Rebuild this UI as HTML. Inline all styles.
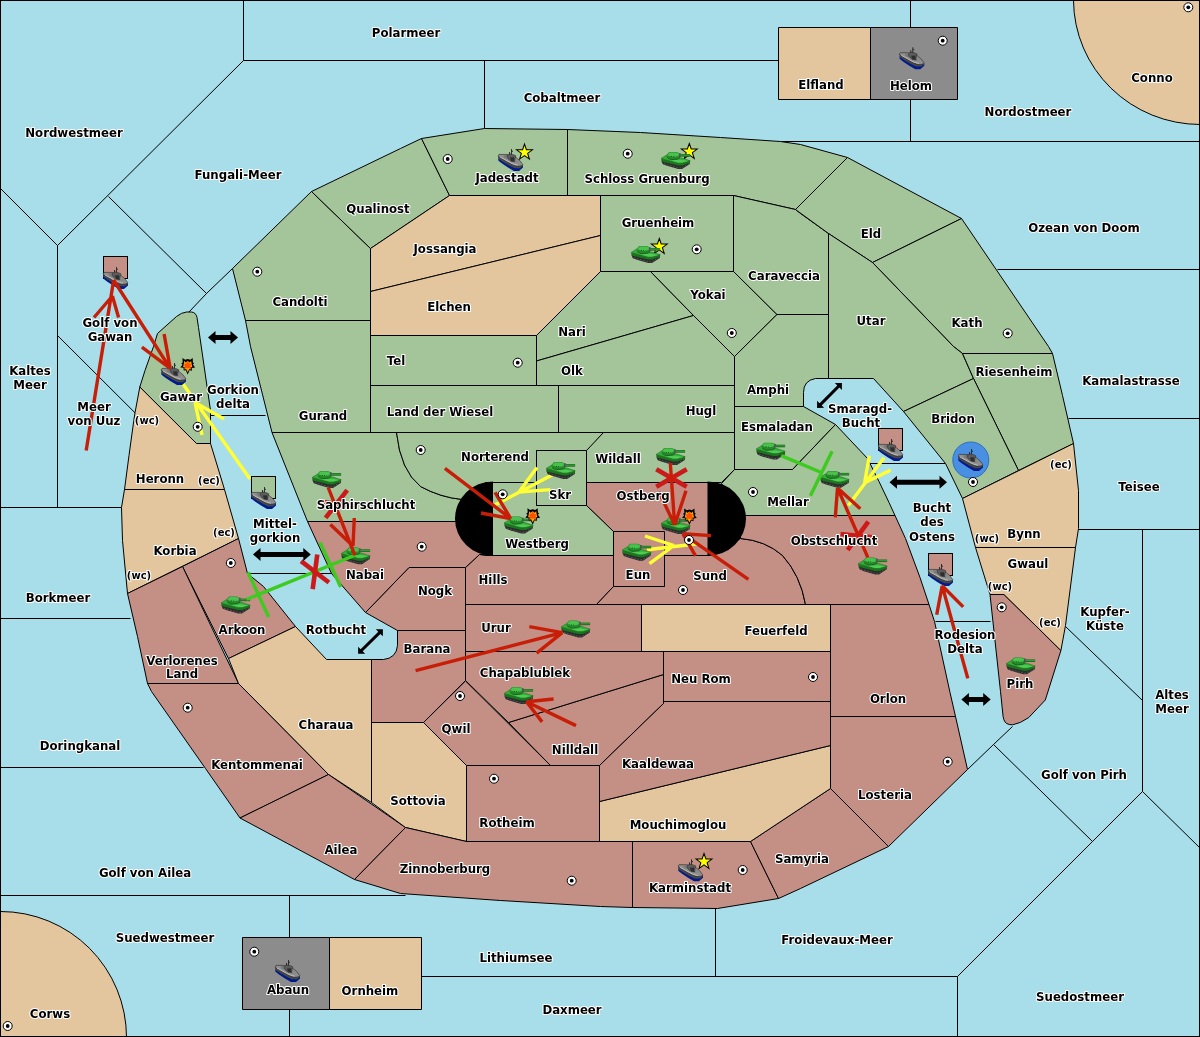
<!DOCTYPE html>
<html lang="de"><head><meta charset="utf-8"><title>Karte</title>
<style>
html,body{margin:0;padding:0;background:#A8DDEA;}
svg{display:block;will-change:transform}
.t{font-family:"DejaVu Sans","Liberation Sans",sans-serif;font-weight:bold;font-size:11.75px;fill:#000;stroke:#fff;stroke-width:2px;stroke-linejoin:round;paint-order:stroke fill;text-anchor:middle}
.s{font-size:10px}
</style></head><body>
<svg width="1200" height="1037" viewBox="0 0 1200 1037">
<rect x="0" y="0" width="1200" height="1037" fill="#A8DDEA"/>
<g stroke="#000" stroke-width="1" stroke-linejoin="round" transform="translate(0.5,0.5)">
<polyline points="243,0 243,60" fill="none"/>
<polyline points="243,60 910,60" fill="none"/>
<polyline points="243,60 57,245 57,507" fill="none"/>
<polyline points="0,188 57,245" fill="none"/>
<polyline points="108,196 206,293 232,268" fill="none"/>
<polyline points="206,293 188,312" fill="none"/>
<polyline points="57,335 134.5,412.3" fill="none"/>
<polyline points="0,507 121,507" fill="none"/>
<polyline points="0,618 130,618" fill="none"/>
<polyline points="0,767 203,767" fill="none"/>
<polyline points="0,895 405,895" fill="none"/>
<polyline points="289,895 289,1037" fill="none"/>
<polyline points="421,976 957,976 957,1037" fill="none"/>
<polyline points="715,908 715,976" fill="none"/>
<polyline points="957,976 1092,841 1142,791 1142,529" fill="none"/>
<polyline points="1142,791 1200,848" fill="none"/>
<polyline points="1092,841 993,744 1012,726" fill="none"/>
<polyline points="993,744 967,769" fill="none"/>
<polyline points="1065,626 1142,700" fill="none"/>
<polyline points="1078,529 1200,529" fill="none"/>
<polyline points="1068,418 1200,418" fill="none"/>
<polyline points="997,269 1200,269" fill="none"/>
<polyline points="780,141 1200,141" fill="none"/>
<polyline points="910,0 910,141" fill="none"/>
<polyline points="484,60 484,128" fill="none"/>
<polyline points="205,415 265,415" fill="none"/>
<polyline points="248,573 333,573" fill="none"/>
<polyline points="867,463 945,463" fill="none"/>
<polyline points="935,621 990,621" fill="none"/>
<rect x="452" y="482" width="42" height="40" fill="#A4C49A" stroke="none"/>
<rect x="452" y="521" width="42" height="34" fill="#C49086" stroke="none"/>
<rect x="705" y="470" width="42" height="45" fill="#A4C49A" stroke="none"/>
<rect x="705" y="515" width="42" height="40" fill="#C49086" stroke="none"/>
<path d="M1073,0 A127,125 0 0 0 1200,124 L1200,0 Z" fill="#E3C69E" />
<path d="M0,911 A126,126 0 0 1 126,1037 L0,1037 Z" fill="#E3C69E" />
<polygon points="778,27 870,27 870,99 778,99" fill="#E3C69E" />
<polygon points="870,27 957,27 957,99 870,99" fill="#8C8C8C" />
<polygon points="242,937 329,937 329,1009 242,1009" fill="#8C8C8C" />
<polygon points="329,937 421,937 421,1009 329,1009" fill="#E3C69E" />
<path d="M157,333 L176,316 Q181,312 186,311.5 L191,311.5 Q195.5,312 196.5,317 L198,327 L210,410 L210,443 L196,443 L139.3,386.5 L144.5,370 L153,346 Z" fill="#A4C49A" />
<polygon points="139.3,386.5 196,443 210,443 224,489 124,489 128.5,455 133.3,420 134.5,412.3" fill="#E3C69E" />
<polygon points="124,489 224,489 238,538 127,593 122,540 121,507" fill="#E3C69E" />
<polygon points="238,538 247,573 263,586 295,626 228,658 182,566" fill="#C49086" />
<polygon points="127,593 182,566 238,683 147,683 137,636" fill="#C49086" />
<polygon points="228,658 295,626 326,659 371,659 371,802 328,774 238,683" fill="#E3C69E" />
<polygon points="147,683 238,683 328,774 239.5,817.5 205,768 151,691" fill="#C49086" />
<polygon points="239.5,817.5 328,774 405,827 354,879" fill="#C49086" />
<polygon points="371,722 423,722 466,765 466,841 405,827 371,802" fill="#E3C69E" />
<polygon points="405,827 466,841 632,841 632,907 600,906 500,900 400,893 354,879" fill="#C49086" />
<polygon points="632,841 750,841 778,898 717,908 632,907" fill="#C49086" />
<polygon points="750,841 830,788 888,846 800,888 778,898" fill="#C49086" />
<polygon points="599,801 830,745 830,788 750,841 599,841" fill="#E3C69E" />
<polygon points="466,765 599,765 599,841 466,841" fill="#C49086" />
<polygon points="830,716 955,716 967,769 888,846 830,788" fill="#C49086" />
<polygon points="830,604 928.5,604 934,621 949.5,692 955,716 830,716" fill="#C49086" />
<polygon points="465,680.5 550,765 466,765 423,722" fill="#C49086" />
<polygon points="508,722 663,674 663,703 599,765 550,765" fill="#C49086" />
<polygon points="663,701 830,701 830,745 599,801 599,765 663,703" fill="#C49086" />
<polygon points="663,651 830,651 830,701 663,701" fill="#C49086" />
<polygon points="465,651 663,651 663,674 508,722 465,680" fill="#C49086" />
<polygon points="465,604 641,604 641,651 465,651" fill="#C49086" />
<polygon points="641,604 830,604 830,651 641,651" fill="#E3C69E" />
<path d="M397,630 L465,630 L465,680 L423,722 L371,722 L371,659 L383,659 Q396,657.5 397,645 Z" fill="#C49086" />
<polygon points="408.5,567 465,567 465,630 397,630 365,612" fill="#C49086" />
<polygon points="479,554 485,555 613,555 613,586 596,604 465,604 465,567" fill="#C49086" />
<polygon points="307,521 485,521 485,554 479,554 465,567 408.5,567 365,612 331,573" fill="#C49086" />
<path d="M664,555 L712,555 L740,538 Q765,540 782,555 Q800,575 805,604 L596,604 L613,586 L664,586 Z" fill="#C49086" />
<path d="M740,515 L894.5,515 L905,538 L919.5,577 L928.5,604 L805,604 Q800,575 782,555 Q765,540 740,538 Z" fill="#C49086" />
<polygon points="613,531 664,531 664,586 613,586" fill="#C49086" />
<polygon points="586,482 712,482 712,555 664,555 664,531 613,531 586,505" fill="#C49086" />
<polygon points="485,482 536,482 536,505 586,505 613,531 613,555 485,555" fill="#A4C49A" />
<path d="M989.5,594 L1003.5,594 L1060.4,650 L1044.8,699.5 L1028.3,717 Q1020,723 1012,724.3 Q1005,724.5 1003.3,719 L1002.6,716 L1000,691 Z" fill="#C49086" />
<polygon points="232,268 311,191 370,248 370,320 245,320" fill="#A4C49A" />
<polygon points="311,191 400,148 421,138 449,195 370,248" fill="#A4C49A" />
<polygon points="421,138 484,128 567,129 567,195 449,195" fill="#A4C49A" />
<polygon points="567,129 640,132 720,137 780,141 800,144 847,157 795,209 733,195 567,195" fill="#A4C49A" />
<polygon points="370,248 449,195 600,195 600,235 370,291" fill="#E3C69E" />
<polygon points="370,291 600,235 600,271 536,335 370,335" fill="#E3C69E" />
<polygon points="600,195 733,195 733,271 600,271" fill="#A4C49A" />
<polygon points="536,335 600,271 650,271 693,315 536,360.5" fill="#A4C49A" />
<polygon points="650,271 733,271 776.5,314 734,356 693,315" fill="#A4C49A" />
<polygon points="733,195 795,209 800,213 828,233 828,314 776.5,314 733,271" fill="#A4C49A" />
<polygon points="795,209 847,157 961,218 872,262 828,233" fill="#A4C49A" />
<polygon points="872,262 961,218 1048,346 1052,353 962,353 953,346" fill="#A4C49A" />
<path d="M828,233 L872,262 L953,346 L962,353 L973,378 L903,411 L873,378 L828,378 Z" fill="#A4C49A" />
<polygon points="962,353 1052,353 1062,395 1073,443 1018,470 973,378" fill="#A4C49A" />
<polygon points="973,378 1018,470 962,498 945,463 903,411" fill="#A4C49A" />
<polygon points="962,498 1073,443 1078,490 1078,528 1075,547 975,547" fill="#E3C69E" />
<polygon points="975,547 1075,547 1065,625 1060.4,650 1003.5,594 989.5,594" fill="#E3C69E" />
<polygon points="370,335 536,335 536,385 370,385" fill="#A4C49A" />
<polygon points="536,360.5 693,315 734,356 734,385 536,385" fill="#A4C49A" />
<polygon points="370,385 558,385 558,432 370,432" fill="#A4C49A" />
<polygon points="558,385 734,385 734,432 558,432" fill="#A4C49A" />
<path d="M734,356 L776.5,314 L828,314 L828,378 L815,378 Q803,380 803,392 L803,406 L734,406 Z" fill="#A4C49A" />
<polygon points="734,406 803,406 835,424 792,469 734,469" fill="#A4C49A" />
<polygon points="734,469 792,469 835,424 867,458 878.5,481 888.5,502 894.5,515 740,515 721,483" fill="#A4C49A" />
<polygon points="245,320 370,320 370,432 271.5,432 250,346" fill="#A4C49A" />
<path d="M271.5,432 L396,432 Q400,470 420,486 Q440,497 462,499 L485,499 L485,521 L307,521 Z" fill="#A4C49A" />
<path d="M396,432 L603,432 L587,450 L536,450 L536,482 L485,482 L485,499 L462,499 Q440,497 420,486 Q400,470 396,432 Z" fill="#A4C49A" />
<polygon points="536,450 586,450 586,505 536,505" fill="#A4C49A" />
<polygon points="603,432 734,432 734,469 721,482 586,482 586,450" fill="#A4C49A" />
<path d="M492.5,481 A38,37.2 0 0 0 492.5,555.4 Z" fill="#000" stroke="none"/>
<path d="M707,481 A38.5,37.2 0 0 1 707,555.4 Z" fill="#000" stroke="none"/>
</g>
<defs>
<g id="tank">
<path d="M0.3,8.8 L1.8,12.2 L6,13.8 L17.2,17 L21,17 L28.8,11.9 L29,9 Z" fill="#2c2c2c"/>
<path d="M3,11.7 L17.5,15.9 L20.8,15.9 L28,11.3" stroke="#606060" stroke-width="0.9" stroke-dasharray="1.5 1.7" fill="none"/>
<path d="M0.2,6.6 L0.5,8.8 L1.5,9.7 L17.2,13.5 L21.4,13.5 L29,10.5 L29.2,8.6 Z" fill="#1d741f"/>
<path d="M0.1,6.4 L5.2,3.3 L21,6 L29.2,8.7 L21,11.2 L17,11.2 Z" fill="#35ab38" stroke="#1d6e20" stroke-width="0.5"/>
<path d="M9,8.2 L20,7.8 L27.4,8.9 L21,10.5 L17,10.5 Z" fill="#4fca53"/>
<path d="M5,3.4 L8.1,0.1 L15.7,0.1 L18.7,1.2 L19,5.4 L16.5,7 L10.1,7.6 L6.4,5.6 Z" fill="#278a2a"/>
<path d="M6.2,3.2 L8.5,0.6 L15.5,0.6 L18,1.6 L17.6,4 L12,5 Z" fill="#49c24d"/>
<path d="M6.2,5.6 L10.1,7.7 L16.6,7.1 L19.2,5.5" stroke="#14541a" stroke-width="0.8" fill="none"/>
<rect x="18.2" y="1.3" width="1.6" height="3.8" fill="#514a5a"/>
<rect x="19.7" y="2.1" width="9.4" height="2.6" fill="#1c6a1e"/>
<rect x="19.7" y="2.7" width="9.4" height="1.1" fill="#2fa032"/>
<rect x="10" y="4" width="0.9" height="0.9" fill="#145018"/><rect x="12" y="4" width="0.9" height="0.9" fill="#145018"/>
</g>
<g id="ship">
<path d="M0,9.2 L0.5,11.8 L4,14.5 L10,18.5 L16,21.9 L21,21.9 L25,18.4 L25,16.4 L17,18.8 Z" fill="#001c8c"/>
<path d="M0.2,6.5 L0.2,9.6 L6,13.5 L12,17 L17,19.3 L22,19.3 L24.9,16.9 L24.8,15.5 L17,16.6 L8,12 Z" fill="#474747"/>
<path d="M0.3,6.3 L1,5.4 L8,5.4 L12,6 L18,8.5 L21.8,11.6 L24.7,15.5 L24.5,16.5 L21.5,17.2 L17.5,16.8 L12,14.3 L6,10.8 L0.5,7.6 Z" fill="#8f8f8f" stroke="#262626" stroke-width="0.6"/>
<path d="M2,8 L8,11.3 L14,14.6 L20,16.3" stroke="#bcbcbc" stroke-width="1" fill="none"/>
<path d="M5.5,6.3 L8.5,6.1 L10,8 L9.4,10 L6.5,9 Z" fill="#787878"/>
<path d="M9,6.4 L10.5,5.6 L12,4.7 L16,5.9 L17.9,6.8 L17,9.5 L17.2,12.8 L13,12.2 L10,9.8 Z" fill="#5c5c5c" stroke="#262626" stroke-width="0.5"/>
<path d="M11.9,8.4 L16,8.2 L16.4,12.6 L13,12 Z" fill="#2e2e2e"/>
<path d="M16.8,11 L19.5,10.6 L21.4,12.2 L21,14 L18,13.8 Z" fill="#8a8a8a"/>
<path d="M13.5,0 L13.5,5.5 M13.5,2.4 L15,2.2 M11.4,3 L11.6,5.4" stroke="#222" stroke-width="0.9" fill="none"/>
</g>
<g id="star">
<path transform="translate(0,0.6) scale(1.04)" d="M0,-7.8 L1.85,-2.5 L7.6,-2.4 L3,1 L4.7,6.5 L0,3.2 L-4.7,6.5 L-3,1 L-7.6,-2.4 L-1.85,-2.5 Z" fill="#FFFF00" stroke="#000" stroke-width="1" stroke-linejoin="miter"/>
</g>
<g id="boom">
<path d="M-5.3,-7.5 L-2.5,-5.8 L0,-6.6 L2.5,-5.8 L5,-7.5 L5.2,-3.2 L6.4,-2.3 L5.2,-1 L7.4,1.9 L4.2,2.4 L4,5.3 L2,4.4 L0,9 L-2,4.6 L-4,4.8 L-4.2,2.2 L-7.4,2 L-5.2,-0.8 L-6.4,-2.3 L-5,-3.2 Z" fill="#000"/>
<path d="M-3.4,-4.8 L-2.2,-3 L0,-4.6 L2.2,-3 L3.4,-4.8 L4,-1.4 L4.6,1.4 L2.6,1.8 L3.4,4 L1.6,3.4 L0,6.6 L-1.6,3.4 L-3.4,4 L-2.6,1.8 L-4.6,1.4 L-4,-1.4 Z" fill="#FFA500"/>
<path d="M0,-4.4 L1.6,-2 L3.6,-1.4 L2.8,0.6 L3.2,3.4 L1,2.4 L0,3 L-1,2.4 L-3.2,3.4 L-2.8,0.6 L-3.6,-1.4 L-1.6,-2 Z" fill="#FF5000"/>
</g>
<g id="sc">
<circle r="4.5" fill="#fff" stroke="#000" stroke-width="1"/><circle r="1.9" fill="#000"/>
</g>
</defs>
<path d="M250,479 L183,384 M224,419 L195,402.5 M202,435 L195,402.5" stroke="#FFFF33" stroke-width="3.4" fill="none" stroke-linecap="butt"/>
<path d="M552,475 L493,506 M537,467.6 L519,492 M550.4,489.6 L519,492" stroke="#FFFF33" stroke-width="3.4" fill="none" stroke-linecap="butt"/>
<path d="M647,549.8 L698,543.7 M645,536 L674,545.5 M649.5,563.7 L674,545.5" stroke="#FFFF33" stroke-width="3.4" fill="none" stroke-linecap="butt"/>
<path d="M884,457.8 L848.3,505.4 M869.4,455.6 L864.6,482.7 M890.6,470.1 L864.6,482.7" stroke="#FFFF33" stroke-width="3.4" fill="none" stroke-linecap="butt"/>
<rect x="103.5" y="256.5" width="24" height="22" fill="#C49086" stroke="#000" stroke-width="1" shape-rendering="crispEdges"/>
<rect x="251.5" y="476.5" width="24" height="22" fill="#A4C49A" stroke="#000" stroke-width="1" shape-rendering="crispEdges"/>
<rect x="878.5" y="428.5" width="24" height="22" fill="#C49086" stroke="#000" stroke-width="1" shape-rendering="crispEdges"/>
<rect x="928.5" y="553.5" width="24" height="22" fill="#C49086" stroke="#000" stroke-width="1" shape-rendering="crispEdges"/>
<circle cx="970.8" cy="460" r="18" fill="#4A90E2" stroke="#2F6FC0" stroke-width="1"/>
<use href="#star" x="524.5" y="151.7"/>
<use href="#star" x="689.3" y="151"/>
<use href="#star" x="659.3" y="246"/>
<use href="#star" x="704" y="861"/>
<use href="#tank" x="661" y="152"/>
<use href="#tank" x="631" y="246"/>
<use href="#tank" x="312" y="471"/>
<use href="#tank" x="341" y="547.2"/>
<use href="#tank" x="221" y="596.5"/>
<use href="#tank" x="546" y="462"/>
<use href="#tank" x="504" y="516.5"/>
<use href="#tank" x="656" y="448"/>
<use href="#tank" x="661" y="517"/>
<use href="#tank" x="622" y="543.7"/>
<use href="#tank" x="756" y="442.6"/>
<use href="#tank" x="820" y="470.8"/>
<use href="#tank" x="858" y="557.4"/>
<use href="#tank" x="561" y="620.5"/>
<use href="#tank" x="504" y="687"/>
<use href="#tank" x="1006" y="657.3"/>
<use href="#ship" x="899.3" y="47.3"/>
<use href="#ship" x="498" y="149"/>
<use href="#ship" x="103" y="267"/>
<use href="#ship" x="161" y="363"/>
<use href="#ship" x="251" y="487"/>
<use href="#ship" x="878" y="439"/>
<use href="#ship" x="958" y="449"/>
<use href="#ship" x="928" y="564"/>
<use href="#ship" x="678" y="859.3"/>
<use href="#ship" x="275" y="960"/>
<path d="M246.7,599.3 L355.5,555" stroke="#3CCB1E" stroke-width="3.4" fill="none"/>
<path d="M248,572.3 L268.7,617" stroke="#3CCB1E" stroke-width="3.4" fill="none"/>
<path d="M320,542.5 L340.7,587" stroke="#3CCB1E" stroke-width="3.4" fill="none"/>
<path d="M781.2,455.6 L822,472.8" stroke="#3CCB1E" stroke-width="3.4" fill="none"/>
<path d="M832.1,451.3 L810.4,495.7" stroke="#3CCB1E" stroke-width="3.4" fill="none"/>
<path d="M301.1,561.1 L328.9,582.5" stroke="#CC1A1A" stroke-width="4.6" fill="none"/>
<path d="M312.7,589.1 L317.3,554.5" stroke="#CC1A1A" stroke-width="4.6" fill="none"/>
<path d="M347.2,490.2 L325.6,517.8" stroke="#CC1A1A" stroke-width="4.6" fill="none"/>
<path d="M319.1,501.6 L353.7,506.4" stroke="#CC1A1A" stroke-width="4.6" fill="none"/>
<path d="M686.7,469.2 L656.3,486.8" stroke="#CC1A1A" stroke-width="4.6" fill="none"/>
<path d="M656.3,469.2 L686.7,486.8" stroke="#CC1A1A" stroke-width="4.6" fill="none"/>
<path d="M847.7,550.0 L868.3,521.6" stroke="#CC1A1A" stroke-width="4.6" fill="none"/>
<path d="M875.4,537.6 L840.6,534.0" stroke="#CC1A1A" stroke-width="4.6" fill="none"/>
<path d="M86.2,450.4 L113.5,281 M94,317.5 L112.4,296 M118.6,317.5 L112.4,296" stroke="#C81E08" stroke-width="3.4" fill="none" stroke-linecap="butt"/>
<path d="M113.5,280 L170.2,368.4 M141.9,347.2 L170.2,368.4 M164.1,334 L170.2,368.4" stroke="#C81E08" stroke-width="3.4" fill="none" stroke-linecap="butt"/>
<path d="M328.2,487.5 L354.9,555.3 M330.4,524.5 L353,546 M354.3,518 L353,546" stroke="#C81E08" stroke-width="3.4" fill="none" stroke-linecap="butt"/>
<path d="M444.9,468.3 L510.7,518.6 M481,513 L510.7,518.6 M495,492.4 L510.7,518.6" stroke="#C81E08" stroke-width="3.4" fill="none" stroke-linecap="butt"/>
<path d="M670.3,463 L674.7,525 M659,492 L674.7,525 M686,490.8 L674.7,525" stroke="#C81E08" stroke-width="3.4" fill="none" stroke-linecap="butt"/>
<path d="M748.4,579.3 L683,533.8 M711,535.6 L683,533.8 M695.5,555.9 L683,533.8" stroke="#C81E08" stroke-width="3.4" fill="none" stroke-linecap="butt"/>
<path d="M867.8,557.4 L837.5,488 M835.3,517.3 L837.5,488 M860.3,508.7 L837.5,488" stroke="#C81E08" stroke-width="3.4" fill="none" stroke-linecap="butt"/>
<path d="M967.8,678.4 L942.2,585.8 M936.7,614.8 L942.2,585.8 M963.2,606.9 L942.2,585.8" stroke="#C81E08" stroke-width="3.4" fill="none" stroke-linecap="butt"/>
<path d="M415.6,670.6 L562.3,632.6 M529.3,626.6 L562.3,632.6 M536.6,653.2 L562.3,632.6" stroke="#C81E08" stroke-width="3.4" fill="none" stroke-linecap="butt"/>
<path d="M576,725.6 L526.5,701.8 M553.6,699 L526.5,701.8 M542.1,721.9 L526.5,701.8" stroke="#C81E08" stroke-width="3.4" fill="none" stroke-linecap="butt"/>
<use href="#sc" x="942.7" y="40.7"/>
<use href="#sc" x="1188.3" y="7.3"/>
<use href="#sc" x="447.7" y="159"/>
<use href="#sc" x="627.7" y="153.7"/>
<use href="#sc" x="696.7" y="249.3"/>
<use href="#sc" x="731.8" y="333"/>
<use href="#sc" x="257.3" y="271.7"/>
<use href="#sc" x="1007.7" y="333.3"/>
<use href="#sc" x="517.7" y="362.7"/>
<use href="#sc" x="197.7" y="426.8"/>
<use href="#sc" x="420.7" y="450"/>
<use href="#sc" x="502.7" y="494.3"/>
<use href="#sc" x="753" y="492"/>
<use href="#sc" x="973" y="482"/>
<use href="#sc" x="689" y="540"/>
<use href="#sc" x="683" y="590"/>
<use href="#sc" x="421.7" y="546.7"/>
<use href="#sc" x="230.8" y="563"/>
<use href="#sc" x="1001.7" y="607.3"/>
<use href="#sc" x="813" y="677"/>
<use href="#sc" x="460" y="696"/>
<use href="#sc" x="187.7" y="707.7"/>
<use href="#sc" x="947.7" y="761.7"/>
<use href="#sc" x="494" y="778.7"/>
<use href="#sc" x="571.7" y="880.7"/>
<use href="#sc" x="742.7" y="870"/>
<use href="#sc" x="254.3" y="951.7"/>
<use href="#sc" x="7.7" y="1026"/>
<use href="#boom" x="187.7" y="365.6"/>
<use href="#boom" x="532.7" y="515.8"/>
<use href="#boom" x="689.4" y="516"/>
<path d="M0,0 L7.5,-6.5 L7.5,-2.5 L22.5,-2.5 L22.5,-6.5 L30.0,0 L22.5,6.5 L22.5,2.5 L7.5,2.5 L7.5,6.5 Z" fill="#000" transform="translate(208,337.5) rotate(0.00)"/>
<path d="M0,0 L7.5,-6.5 L7.5,-2.5 L50.30000000000001,-2.5 L50.30000000000001,-6.5 L57.80000000000001,0 L50.30000000000001,6.5 L50.30000000000001,2.5 L7.5,2.5 L7.5,6.5 Z" fill="#000" transform="translate(253,554.4) rotate(0.00)"/>
<path d="M0,0 L5,-5 L5,-1.5 L29.861009738675065,-1.5 L29.861009738675065,-5 L34.861009738675065,0 L29.861009738675065,5 L29.861009738675065,1.5 L5,1.5 L5,5 Z" fill="#000" transform="translate(358.1,653.8) rotate(-44.65)"/>
<path d="M0,0 L5,-5 L5,-1.5 L30.214201680571968,-1.5 L30.214201680571968,-5 L35.21420168057197,0 L30.214201680571968,5 L30.214201680571968,1.5 L5,1.5 L5,5 Z" fill="#000" transform="translate(817.1,407.9) rotate(-45.23)"/>
<path d="M0,0 L7.5,-6.5 L7.5,-2.5 L50.0,-2.5 L50.0,-6.5 L57.5,0 L50.0,6.5 L50.0,2.5 L7.5,2.5 L7.5,6.5 Z" fill="#000" transform="translate(889.5,482.2) rotate(0.00)"/>
<path d="M0,0 L7.5,-6.5 L7.5,-2.5 L21.800000000000068,-2.5 L21.800000000000068,-6.5 L29.300000000000068,0 L21.800000000000068,6.5 L21.800000000000068,2.5 L7.5,2.5 L7.5,6.5 Z" fill="#000" transform="translate(961.4,699.5) rotate(0.00)"/>
<text class="t" x="406" y="36.5">Polarmeer</text>
<text class="t" x="562" y="101.5">Cobaltmeer</text>
<text class="t" x="821" y="88.5">Elfland</text>
<text class="t" x="911" y="89.5">Helom</text>
<text class="t" x="1152" y="81.5">Conno</text>
<text class="t" x="1028" y="115.5">Nordostmeer</text>
<text class="t" x="74" y="136.5">Nordwestmeer</text>
<text class="t" x="238" y="178.5">Fungali-Meer</text>
<text class="t" x="507" y="181.5">Jadestadt</text>
<text class="t" x="647" y="182.5">Schloss Gruenburg</text>
<text class="t" x="378" y="212.5">Qualinost</text>
<text class="t" x="658" y="226.5">Gruenheim</text>
<text class="t" x="871" y="237.5">Eld</text>
<text class="t" x="1084" y="231.5">Ozean von Doom</text>
<text class="t" x="445" y="252.5">Jossangia</text>
<text class="t" x="784" y="279.5">Caraveccia</text>
<text class="t" x="708" y="298.5">Yokai</text>
<text class="t" x="300" y="305.5">Candolti</text>
<text class="t" x="449" y="310.5">Elchen</text>
<text class="t" x="871" y="324.5">Utar</text>
<text class="t" x="967" y="326.5">Kath</text>
<text class="t" x="572" y="335.5">Nari</text>
<text class="t" x="110" y="326.5">Golf von</text>
<text class="t" x="110" y="340.5">Gawan</text>
<text class="t" x="396" y="364.5">Tel</text>
<text class="t" x="572" y="374.5">Olk</text>
<text class="t" x="1014" y="375.5">Riesenheim</text>
<text class="t" x="30" y="374.5">Kaltes</text>
<text class="t" x="30" y="388.5">Meer</text>
<text class="t" x="1131" y="384.5">Kamalastrasse</text>
<text class="t" x="768" y="393.5">Amphi</text>
<text class="t" x="181" y="400.5">Gawar</text>
<text class="t" x="233" y="393.5">Gorkion</text>
<text class="t" x="233" y="407.5">delta</text>
<text class="t" x="94" y="410.5">Meer</text>
<text class="t" x="94" y="424.5">von Uuz</text>
<text class="t" x="440" y="415.5">Land der Wiesel</text>
<text class="t" x="701" y="414.5">Hugl</text>
<text class="t" x="323" y="419.5">Gurand</text>
<text class="t" x="860" y="412.5">Smaragd-</text>
<text class="t" x="861" y="426.5">Bucht</text>
<text class="t" x="953" y="422.5">Bridon</text>
<text class="t" x="777" y="430.5">Esmaladan</text>
<text class="t" x="495" y="460.5">Norterend</text>
<text class="t" x="618" y="462.5">Wildall</text>
<text class="t" x="160" y="482.5">Heronn</text>
<text class="t" x="1139" y="490.5">Teisee</text>
<text class="t" x="560" y="498.5">Skr</text>
<text class="t" x="643" y="499.5">Ostberg</text>
<text class="t" x="788" y="505.5">Mellar</text>
<text class="t" x="366" y="508.5">Saphirschlucht</text>
<text class="t" x="932" y="511.5">Bucht</text>
<text class="t" x="932" y="525.5">des</text>
<text class="t" x="932" y="540.5">Ostens</text>
<text class="t" x="275" y="527.5">Mittel-</text>
<text class="t" x="275" y="541.5">gorkion</text>
<text class="t" x="1024" y="537.5">Bynn</text>
<text class="t" x="537" y="547.5">Westberg</text>
<text class="t" x="834" y="544.5">Obstschlucht</text>
<text class="t" x="175" y="554.5">Korbia</text>
<text class="t" x="1028" y="567.5">Gwaul</text>
<text class="t" x="638" y="578.5">Eun</text>
<text class="t" x="710" y="579.5">Sund</text>
<text class="t" x="365" y="578.5">Nabai</text>
<text class="t" x="493" y="583.5">Hills</text>
<text class="t" x="435" y="594.5">Nogk</text>
<text class="t" x="58" y="601.5">Borkmeer</text>
<text class="t" x="1105" y="615.5">Kupfer-</text>
<text class="t" x="1105" y="629.5">Küste</text>
<text class="t" x="496" y="631.5">Urur</text>
<text class="t" x="242" y="633.5">Arkoon</text>
<text class="t" x="336" y="633.5">Rotbucht</text>
<text class="t" x="776" y="634.5">Feuerfeld</text>
<text class="t" x="965" y="638.5">Rodesion</text>
<text class="t" x="965" y="652.5">Delta</text>
<text class="t" x="427" y="652.5">Barana</text>
<text class="t" x="182" y="664.5">Verlorenes</text>
<text class="t" x="182" y="677.5">Land</text>
<text class="t" x="525" y="676.5">Chapablublek</text>
<text class="t" x="701" y="682.5">Neu Rom</text>
<text class="t" x="1020" y="687.5">Pirh</text>
<text class="t" x="1172" y="698.5">Altes</text>
<text class="t" x="1172" y="712.5">Meer</text>
<text class="t" x="888" y="702.5">Orlon</text>
<text class="t" x="326" y="728.5">Charaua</text>
<text class="t" x="456" y="732.5">Qwil</text>
<text class="t" x="80" y="749.5">Doringkanal</text>
<text class="t" x="575" y="753.5">Nilldall</text>
<text class="t" x="658" y="767.5">Kaaldewaa</text>
<text class="t" x="257" y="768.5">Kentommenai</text>
<text class="t" x="1084" y="778.5">Golf von Pirh</text>
<text class="t" x="885" y="798.5">Losteria</text>
<text class="t" x="418" y="804.5">Sottovia</text>
<text class="t" x="507" y="826.5">Rotheim</text>
<text class="t" x="678" y="828.5">Mouchimoglou</text>
<text class="t" x="341" y="853.5">Ailea</text>
<text class="t" x="802" y="862.5">Samyria</text>
<text class="t" x="445" y="872.5">Zinnoberburg</text>
<text class="t" x="145" y="876.5">Golf von Ailea</text>
<text class="t" x="690" y="891.5">Karminstadt</text>
<text class="t" x="165" y="941.5">Suedwestmeer</text>
<text class="t" x="837" y="943.5">Froidevaux-Meer</text>
<text class="t" x="516" y="961.5">Lithiumsee</text>
<text class="t" x="288" y="993.5">Abaun</text>
<text class="t" x="370" y="994.5">Ornheim</text>
<text class="t" x="1080" y="1000.5">Suedostmeer</text>
<text class="t" x="572" y="1013.5">Daxmeer</text>
<text class="t" x="50" y="1017.5">Corws</text>
<text class="t s" x="147" y="423.5">(wc)</text>
<text class="t s" x="1061" y="467.5">(ec)</text>
<text class="t s" x="209" y="483.5">(ec)</text>
<text class="t s" x="224" y="535.5">(ec)</text>
<text class="t s" x="987" y="541.5">(wc)</text>
<text class="t s" x="139" y="578.5">(wc)</text>
<text class="t s" x="1000" y="589.5">(wc)</text>
<text class="t s" x="1050" y="625.5">(ec)</text>
<path d="M0.5,0.5 H1199.5 V1036.5 H0.5 Z" fill="none" stroke="#000" stroke-width="1" shape-rendering="crispEdges"/>
</svg>
</body></html>
